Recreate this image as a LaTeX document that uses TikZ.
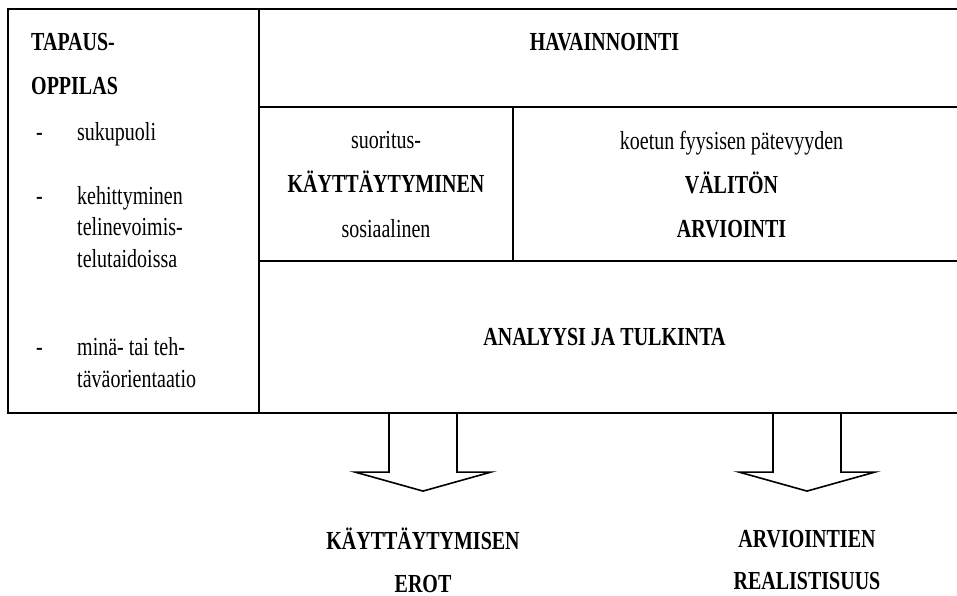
\documentclass[tikz,border=0pt]{standalone}
\usepackage{fontspec}
\setmainfont{Liberation Serif}
\usetikzlibrary{calc}

\begin{document}
\begin{tikzpicture}[
    x=1pt, y=-0.76923pt, yscale=1.3, transform shape,
    frame/.style={line width=2pt},
    block/.style={line width=1.6pt, line join=miter},
    cell/.style={align=center, inner sep=0pt, font=\fontsize{20}{34}\selectfont},
    head/.style={inner sep=0pt, font=\fontsize{20}{34}\selectfont\bfseries},
    result/.style={align=center, inner sep=0pt, font=\fontsize{20}{33}\selectfont\bfseries}
]
\useasboundingbox (0,0) rectangle (957,596);
% table frame, open on the right
\draw[frame] (957,9) -| (8,413) -- (957,413);
\draw[frame] (259,9) -- (259,413);
\draw[frame] (259,107) -- (957,107) (259,261) -- (957,261) (513,107) -- (513,261);
\coordinate (bot) at (0,413);

\node[anchor=base west, inner sep=0pt, font=\fontsize{20}{24.6}\selectfont] (case) at (31,51) {%
  \begin{tabular}[t]{@{\hspace{5pt}}p{41pt}@{}l@{}}
  \multicolumn{2}{@{}l@{}}{\textbf{TAPAUS-}}\\[8.5pt]
  \multicolumn{2}{@{}l@{}}{\textbf{OPPILAS}}\\[10.8pt]
  - & sukupuoli\\[24.6pt]
  - & kehittyminen\\
    & telinevoimis-\\
    & telutaidoissa\\[43pt]
  - & minä- tai teh-\\
    & täväorientaatio
  \end{tabular}};
\node[head, anchor=base] (obs) at (604.5,51) {HAVAINNOINTI};
\node[cell] (beh) at (386,184.5) {suoritus-\\\textbf{KÄYTTÄYTYMINEN}\\sosiaalinen};
\node[cell] (eval) at (731.5,184.5) {koetun fyysisen pätevyyden\\\textbf{VÄLITÖN}\\\textbf{ARVIOINTI}};
\node[head] (anal) at (604.5,337) {ANALYYSI JA TULKINTA};

\node[result] (erot) at (423,560) {KÄYTTÄYTYMISEN\\EROT};
\node[result] (real) at (807,560) {ARVIOINTIEN\\REALISTISUUS};
\foreach \r in {erot,real}
  \draw[block] ($(\r |- bot)+(-34,0)$) -- ++(0,59) -- ++(-34,0) -- ++(68,19)
    -- ++(68,-19) -- ++(-34,0) -- ++(0,-59);
\end{tikzpicture}
\end{document}
